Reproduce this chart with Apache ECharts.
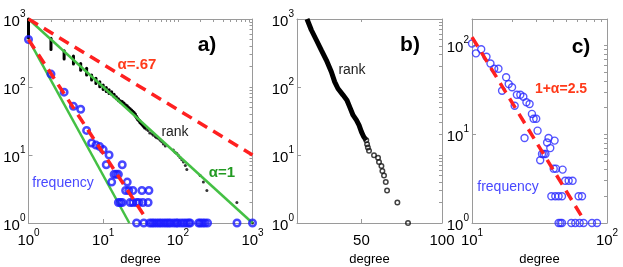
<!DOCTYPE html>
<html><head><meta charset="utf-8">
<script src="https://cdn.jsdelivr.net/npm/echarts@6/dist/echarts.min.js"></script>
<style>html,body{margin:0;padding:0;background:#fff}#c{width:623px;height:267px}</style>
</head><body><div id="c"></div>
<script>
// ---------- Panel a) data ----------
const rankSegDeg = [1,2,3,4,5,6,7,8,9,10,11,12,13,14,15,16,17,18,19,20,21,22,23,24,25,26,27,28,29,30,31,32,33,34,35,36];
const rankSegTop = [1000,520,340,285,222,188,150,134,119,107,98,91,85,78,72,67,63,61,58,55,53,50,48,46,44,42,40,37,35,33,32,30,29,28,27,26];
const rankSegBot = [525,355,258,218,177,150,127,113,101,92,86,80,78,72,67,63,60,58,55,53,50,48,46,44,42,40,37,35,33,32,30,29,28,27,26,25];
const rankTailDeg = [38,40,42,45,47,50,52,55,58,61,64,68,87,92,97,102,107,113,119,126,132,199,220,245,618,1000];
const rankTailVal = [24,23,21,20.5,19.5,18.5,18,17.5,16.5,15.6,14.5,13.6,11.8,11,10.5,9.8,9.2,8.5,7.9,7,6.1,5,4,3,2,1];
const freqDeg = [1,2,3,4,5,6,7,8,9,10,11,12,13,14,15,16,18,21,20,22,25,33,41,16,17,18,23,25,28,30,34,40,
                 28,35,42,45,48,52,56,60,65,70,75,80,88,95,100,110,120,130,140,146,190,200,215,230,250,620,1000];
const freqVal = [500,155,84,52,47,23,15,14,13.3,12,7.2,10,4,5.2,5.2,5.2,7.2,4,3,3,3,3,3,2,2,2,2,2,2,2,2,2,
                 1,1,1,1,1,1,1,1,1,1,1,1,1,1,1,1,1,1,1,1,1,1,1,1,1,1,1];
const fitA067 = [[1,1000],[1000,10]];
const fitA167 = [[1,500],[36,1.25]];
const fitG1 = [[1,1000],[1000,1]];
const fitG2 = [[1,500],[22.4,1]];
// ---------- Panel b) data ----------
const bDenseDeg = [16.2,18.9,22.0,25.1,28.2,31.3,33.4,35.4,38.6,41.0,42.7,44.8,46.9,48.5,50.0,51.4,53];
const bDenseRank = [1000,689,491,349,249,168,119,95,76,64,51,38.5,32.6,27.5,21.9,18.5,16.5];
const bTailDeg = [53,53.5,54,54.7,57.8,60.3,60.9,62.4,63,64,65.1,65.9,72.3,78.9];
const bTailRank = [16.5,14.4,12.9,11.5,9.9,9.1,7.9,6.9,5.8,5.0,4.0,3.0,2.0,1];
// ---------- Panel c) data ----------
const cDeg = [10,10.7,11.7,12.8,13.7,14.6,15.7,16.7,17.9,18.7,19.8,20.7,21.5,22.8,24,25.3,26.7,27.8,28.6,29.9,
              30.6,24.5,32,33,34,35,36,36.9,38,40.9,40.3,41.9,46.9,49,52,55.6,38.7,41.4,43.8,46.4,
              61.6,65.3,43.8,45.2,46.4,54.4,58.2,62.7,67.1,77.4,84.3];
const cVal = [106,82,91,75,63,55,55,31,44,37,34,21,28,28,26.5,23,22,17,15,15,
              11,9.1,5.1,6,6,6,8.1,9.1,7,8.5,4.1,4.1,4,3,3,3,2,2,2,2,
              2,2,1,1,1,1,1,1,1,1,1];
const fitC = [[10,125],[67,1.1]];
// tick values
const bXTicks = [50,100];
const ticksLog3 = [1,2,3,4,5,6,7,8,9,10,20,30,40,50,60,70,80,90,100,200,300,400,500,600,700,800,900,1000];
const ticksLogCX = [10,20,30,40,50,60,70,80,90,100];
const ticksLogCY = [1,2,3,4,5,6,7,8,9,10,20,30,40,50,60,70,80,90,100,200];

const zip = (a,b) => a.map((v,i)=>[v,b[i]]);
const FONT = '"Liberation Sans", Arial, sans-serif';
const AX = '#9a9a9a';
const rich = {
  b:{fontSize:15, fontFamily:FONT, color:'#000', lineHeight:20, verticalAlign:'bottom'},
  s:{fontSize:10, fontFamily:FONT, color:'#000', lineHeight:20, verticalAlign:'top'}
};
function pow10Label(v){ const l=Math.log10(v); const e=Math.round(l); if(Math.abs(l-e)>1e-6) return ''; return '{b|10}{s|'+e+'}'; }
function plainLabel(v){ return '{b|'+v+'}'; }

// main (labelled) axis + a decorative tick-only axis on the opposite side
function axisPair(dim, gi, type, min, max, fmt, tickVals, extraLabel){
  const base = {gridIndex:gi, type:type, min:min, max:max, splitLine:{show:false},
    axisLine:{show:true, onZero:false, lineStyle:{color:AX, width:1}}};
  if(type==='log') base.logBase = 10;
  const main = Object.assign({}, base, {
    position: dim==='x'?'bottom':'left',
    axisTick:{show:true, inside:true, length:4, lineStyle:{color:AX}},
    axisLabel:Object.assign({show:true, formatter:fmt, rich:rich, margin: dim==='x'?5:3}, extraLabel||{})
  });
  if(dim==='x'){
    main.name='degree'; main.nameLocation='middle'; main.nameGap=30;
    main.nameTextStyle={fontSize:13, fontFamily:FONT, color:'#000'};
  }
  // opposite-side box edge with MATLAB-like minor ticks
  let sec;
  if(type==='log'){
    sec = {gridIndex:gi, type:'value', min:Math.log10(min), max:Math.log10(max), splitLine:{show:false},
      position: dim==='x'?'top':'right',
      axisLine:{show:true, onZero:false, lineStyle:{color:AX, width:1}},
      axisTick:{show:true, inside:true, length:3, lineStyle:{color:AX}, customValues: tickVals.map(Math.log10)},
      axisLabel:{show:false}};
  } else {
    sec = Object.assign({}, base, {
      position: dim==='x'?'top':'right',
      axisTick:{show:true, inside:true, length:3, lineStyle:{color:AX}, customValues: tickVals},
      axisLabel:{show:false}});
  }
  return [main, sec];
}

const xAxes = [].concat(
  axisPair('x',0,'log',1,1000,pow10Label,ticksLog3),
  axisPair('x',1,'value',10,100,plainLabel,bXTicks,{customValues:bXTicks}),
  axisPair('x',2,'log',10,100,pow10Label,ticksLogCX)
);
xAxes[2].axisTick.customValues = bXTicks;
const yAxes = [].concat(
  axisPair('y',0,'log',1,1000,pow10Label,ticksLog3),
  axisPair('y',1,'log',1,1000,pow10Label,ticksLog3),
  axisPair('y',2,'log',1,200,pow10Label,ticksLogCY)
);

const series = [
  // panel a
  {type:'custom', xAxisIndex:0, yAxisIndex:0, z:3, clip:false,
   data: rankSegDeg.map((d,i)=>[d, rankSegTop[i], rankSegBot[i]]),
   encode:{x:0, y:[1,2]},
   renderItem:(params, api)=>{
     const p1 = api.coord([api.value(0), api.value(1)]);
     const p2 = api.coord([api.value(0), api.value(2)]);
     return {type:'line', shape:{x1:p1[0],y1:p1[1],x2:p2[0],y2:p2[1]}, style:{stroke:'#000', lineWidth:3, lineCap:'round'}};
   }},
  {type:'scatter', xAxisIndex:0, yAxisIndex:0, z:3, symbolSize:3, itemStyle:{color:'#000'},
   data: zip(rankTailDeg, rankTailVal)},
  {type:'line', xAxisIndex:0, yAxisIndex:0, z:4, showSymbol:false, data:fitG1,
   lineStyle:{color:'#44c044', width:2.5}},
  {type:'line', xAxisIndex:0, yAxisIndex:0, z:4, showSymbol:false, data:fitG2,
   lineStyle:{color:'#44c044', width:2.5}},
  {type:'scatter', xAxisIndex:0, yAxisIndex:0, z:5, symbol:'circle', symbolSize:6.5,
   itemStyle:{color:'rgba(0,0,0,0)', borderColor:'#1a1aff', borderWidth:2.5},
   data: zip(freqDeg, freqVal)},
  {type:'line', xAxisIndex:0, yAxisIndex:0, z:6, showSymbol:false, data:fitA067,
   lineStyle:{color:'#ff2020', width:3.5, type:[11,7]}},
  {type:'line', xAxisIndex:0, yAxisIndex:0, z:6, showSymbol:false, data:fitA167,
   lineStyle:{color:'#ff2020', width:3.5, type:[11,7]}},
  // panel b
  {type:'line', xAxisIndex:2, yAxisIndex:2, z:3, showSymbol:false, data: zip(bDenseDeg, bDenseRank),
   lineStyle:{color:'#000', width:5}},
  {type:'scatter', xAxisIndex:2, yAxisIndex:2, z:3, symbol:'circle', symbolSize:4.5, clip:false,
   itemStyle:{color:'rgba(0,0,0,0)', borderColor:'#111', borderWidth:1.5},
   data: zip(bTailDeg, bTailRank)},
  // panel c
  {type:'scatter', xAxisIndex:4, yAxisIndex:4, z:4, symbol:'circle', symbolSize:7,
   itemStyle:{color:'rgba(0,0,0,0)', borderColor:'#2a2aff', borderWidth:1.4},
   data: zip(cDeg, cVal)},
  {type:'line', xAxisIndex:4, yAxisIndex:4, z:5, showSymbol:false, data:fitC,
   lineStyle:{color:'#ff2020', width:3.5, type:[11,7]}}
];

function txt(x,y,text,font,fill){
  return {type:'text', x:x, y:y, z:100, style:{text:text, font:font, fill:fill, align:'center', verticalAlign:'middle'}};
}
const graphic = [
  txt(207,45,'a)','bold 21px '+FONT,'#000'),
  txt(137,65,'α=.67','bold 15px '+FONT,'#ff3a1a'),
  txt(175,132,'rank','14px '+FONT,'#222'),
  txt(222,173,'α=1','bold 15px '+FONT,'#229a22'),
  txt(63,183,'frequency','14px '+FONT,'#4848ff'),
  txt(410,45,'b)','bold 21px '+FONT,'#000'),
  txt(352,70,'rank','14px '+FONT,'#222'),
  txt(581,47,'c)','bold 21px '+FONT,'#000'),
  txt(561,89,'1+α=2.5','bold 14px '+FONT,'#ff3a1a'),
  txt(508,187,'frequency','14px '+FONT,'#4848ff')
];

const chart = echarts.init(document.getElementById('c'));
chart.setOption({
  animation:false,
  backgroundColor:'#fff',
  grid:[
    {left:28.5, top:19, width:224, height:204, outerBoundsMode:'none'},
    {left:297, top:19, width:145, height:204, outerBoundsMode:'none'},
    {left:472, top:19, width:135, height:204, outerBoundsMode:'none'}
  ],
  xAxis:xAxes, yAxis:yAxes, series:series, graphic:graphic
});
</script></body></html>
